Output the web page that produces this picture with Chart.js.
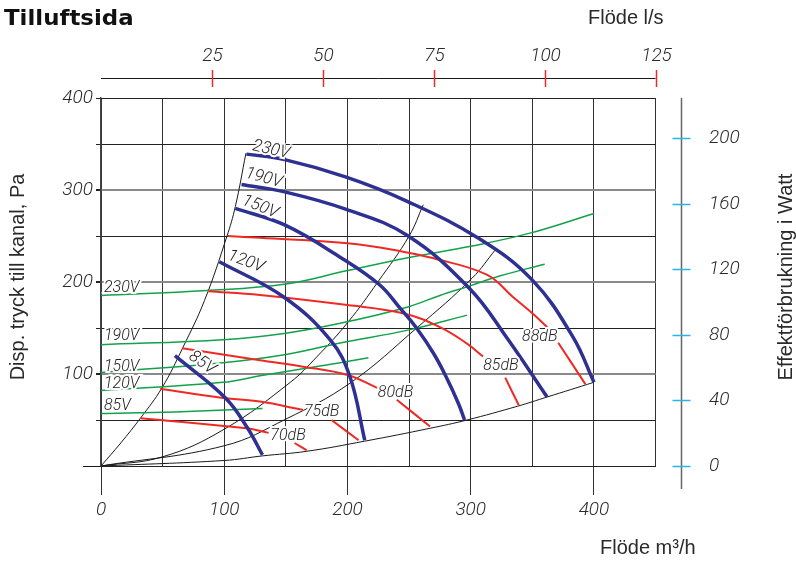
<!DOCTYPE html>
<html>
<head>
<meta charset="utf-8">
<script src="https://cdn.jsdelivr.net/npm/chart.js@4.4.1/dist/chart.umd.min.js"></script>
<style>
  html, body { margin: 0; padding: 0; background: #fff; }
  #wrap { width: 796px; height: 561px; }
</style>
</head>
<body>
<div id="wrap"><canvas id="diagram" width="796" height="561"></canvas></div>
<script>
// Värden: [flöde m3/h, tryck Pa] resp. [flöde m3/h, effekt W]
const xTicks = [0, 100, 200, 300, 400];
const yTicks = [100, 200, 300, 400];
const lsTicks = [25, 50, 75, 100, 125];
const wattTicks = [0, 40, 80, 120, 160, 200];

// fläktkurvor (blå)
const fan230 = [[118,339],[149,333],[199,314],[248,288],[307,247],[350,202],[383,140],[400,91]];
const fan190 = [[114,306],[149,298],[199,279],[248,251],[299,193],[329,140],[362,75]];
const fan150 = [[109,280],[149,262],[194,227],[226,197],[243,171],[256,150],[270,122],[280,97],[290,68],[295,50]];
const fan120 = [[96,222],[148,184],[186,137],[202,97],[214,28]];
const fan85  = [[60,120],[101,74],[119,41],[131,12]];

// ljudkurvor (röda), övre del och nedre del
const db88a = [[103,250],[129,248],[200,242],[245,233],[269,226],[313,208],[334,184],[350,166],[362,151]];
const db88b = [[371,134],[393,89]];
const db85a = [[87,190],[129,186],[200,175],[245,166],[275,151],[297,133],[310,119]];
const db85b = [[328,96],[339,66]];
const db80a = [[66,128],[129,115],[164,108],[200,99],[224,85]];
const db80b = [[240,72],[267,43]];
const db75a = [[48,84],[99,74],[129,70],[164,61]];
const db75b = [[187,50],[209,28]];
const db70a = [[32,52],[118,41],[136,36]];
const db70b = [[157,25],[167,17]];

// effektkurvor (gröna), höger axel
const watt230 = [[0,104],[86,107],[150,111],[199,119],[249,127],[300,134],[348,142],[400,154]];
const watt190 = [[0,74],[99,77],[150,81],[194,87],[249,97],[275,104],[300,110],[324,116],[360,123]];
const watt150 = [[0,57],[99,63],[150,68],[194,75],[250,83],[297,92]];
const watt120 = [[0,46],[99,51],[129,55],[194,63],[217,66]];
const watt85  = [[-2,32],[60,33],[131,35]];

// systemkurvor (svarta)
const sysLeft   = [[0,0],[16,25],[32,52],[49.5,85],[66.5,129],[84,180],[102,249],[109,282],[117.6,340]];
const sysMid    = [[0,0],[50,10],[100,40],[153.6,91],[175,118.5],[200.5,156.5],[224.6,200],[250,250],[261.5,284]];
const sysLow    = [[0,0],[100,22],[150,51],[202,90],[257,151],[301,204],[320,235]];
const sysBottom = [[0,0],[100,6],[131,11],[167,16],[214,27],[267,41],[297,50],[338,65],[362,75],[400,91]];

const BLA = '#2e3192';
const ROD = '#ee2a24';
const GRON = '#12a24a';
const SVART = '#1a1a1a';
const TEXT = '#2a2a2a';
const TICKFONT = '300 italic 19px Roboto';
const LABELFONT = '300 italic 16px Roboto';

function punkter(arr) {
    return arr.map(p => ({ x: p[0], y: p[1] }));
}

function serie(arr, farg, bredd, axel) {
    return {
        data: punkter(arr),
        borderColor: farg,
        borderWidth: bredd,
        pointRadius: 0,
        showLine: true,
        fill: false,
        tension: 0.4,
        xAxisID: 'x',
        yAxisID: axel || 'y'
    };
}

// texter på kurvorna, i datakoordinater
const blaEtiketter = [
    { t: '230V', q: 138, p: 343.5, rot: 13 },
    { t: '190V', q: 132, p: 313, rot: 15 },
    { t: '150V', q: 129, p: 281.5, rot: 22 },
    { t: '120V', q: 117.6, p: 222, rot: 20 },
    { t: '85V', q: 82, p: 112, rot: 35 }
];
const rodaEtiketter = [
    { t: '70dB', q: 151.7, p: 32.6 },
    { t: '75dB', q: 179, p: 58.7 },
    { t: '80dB', q: 239, p: 79 },
    { t: '85dB', q: 324.5, p: 108.7 },
    { t: '88dB', q: 356, p: 140 }
];
const gronaEtiketter = [
    { t: '230V', w: 108.5 },
    { t: '190V', w: 79.3 },
    { t: '150V', w: 60.4 },
    { t: '120V', w: 50 },
    { t: '85V', w: 36.6 }
];

function textMedHalo(ctx, text, x, y) {
    ctx.lineWidth = 4;
    ctx.strokeStyle = '#fff';
    ctx.strokeText(text, x, y);
    ctx.fillText(text, x, y);
}

const extraRitning = {
    id: 'extraRitning',
    afterDraw(chart) {
        const ctx = chart.ctx;
        const sx = chart.scales.x, sy = chart.scales.y;
        const sx2 = chart.scales.x2, sy2 = chart.scales.y2;
        const area = chart.chartArea;
        ctx.save();

        // rubrik
        ctx.fillStyle = '#111';
        ctx.font = 'bold 21px "DejaVu Sans"';
        ctx.textAlign = 'left';
        ctx.textBaseline = 'alphabetic';
        ctx.save();
        ctx.translate(4, 25);
        ctx.scale(1.09, 1);
        ctx.fillText('Tilluftsida', 0, 0);
        ctx.restore();

        // övre axel l/s
        const topY = 78;
        ctx.strokeStyle = SVART;
        ctx.lineWidth = 1;
        ctx.beginPath();
        ctx.moveTo(area.left, topY + 0.5);
        ctx.lineTo(area.right, topY + 0.5);
        ctx.stroke();
        ctx.strokeStyle = ROD;
        ctx.lineWidth = 1.5;
        ctx.font = TICKFONT;
        ctx.fillStyle = TEXT;
        ctx.textAlign = 'center';
        ctx.textBaseline = 'middle';
        lsTicks.forEach(v => {
            const px = Math.round(sx2.getPixelForValue(v)) + 0.5;
            ctx.beginPath();
            ctx.moveTo(px, topY - 8);
            ctx.lineTo(px, topY + 9);
            ctx.stroke();
            ctx.fillText(String(v), px, topY - 22);
        });
        ctx.font = '20px "Liberation Sans"';
        ctx.textAlign = 'left';
        ctx.fillText('Flöde l/s', 588, 18);

        // höger axel W
        const axX = 681.5;
        ctx.strokeStyle = '#666';
        ctx.lineWidth = 1.5;
        ctx.beginPath();
        ctx.moveTo(axX, area.top);
        ctx.lineTo(axX, 489);
        ctx.stroke();
        ctx.strokeStyle = '#27b4e6';
        ctx.font = TICKFONT;
        wattTicks.forEach(v => {
            const py = Math.round(sy2.getPixelForValue(v)) + 0.5;
            ctx.beginPath();
            ctx.moveTo(axX - 9, py);
            ctx.lineTo(axX + 9, py);
            ctx.stroke();
            ctx.fillText(String(v), 709, py);
        });

        // vänster förlängning av x-axeln
        ctx.strokeStyle = SVART;
        ctx.lineWidth = 1;
        ctx.beginPath();
        ctx.moveTo(83, Math.round(sy.getPixelForValue(0)) + 0.5);
        ctx.lineTo(area.left, Math.round(sy.getPixelForValue(0)) + 0.5);
        ctx.stroke();

        // axeltitlar
        ctx.fillStyle = TEXT;
        ctx.font = '20px "Liberation Sans"';
        ctx.textAlign = 'left';
        ctx.fillText('Flöde m³/h', 600, 548);

        ctx.textAlign = 'center';
        ctx.save();
        ctx.translate(18, 277);
        ctx.rotate(-Math.PI / 2);
        ctx.fillText('Disp. tryck till kanal, Pa', 0, 0);
        ctx.restore();
        ctx.save();
        ctx.translate(786, 277);
        ctx.rotate(-Math.PI / 2);
        ctx.fillText('Effektförbrukning i Watt', 0, 0);
        ctx.restore();

        // kurvetiketter
        ctx.fillStyle = '#222';
        ctx.font = '300 italic 17px Roboto';
        blaEtiketter.forEach(e => {
            ctx.save();
            ctx.translate(sx.getPixelForValue(e.q), sy.getPixelForValue(e.p));
            ctx.rotate(e.rot * Math.PI / 180);
            textMedHalo(ctx, e.t, 0, 0);
            ctx.restore();
        });
        ctx.font = LABELFONT;
        rodaEtiketter.forEach(e => {
            textMedHalo(ctx, e.t, sx.getPixelForValue(e.q), sy.getPixelForValue(e.p));
        });
        ctx.textAlign = 'left';
        gronaEtiketter.forEach(e => {
            textMedHalo(ctx, e.t, sx.getPixelForValue(2.4), sy2.getPixelForValue(e.w));
        });
        ctx.restore();
    }
};

const datasets = [
    serie(fan230, BLA, 3.5), serie(fan190, BLA, 3.5), serie(fan150, BLA, 3.5),
    serie(fan120, BLA, 3.5), serie(fan85, BLA, 3.5),
    serie(db88a, ROD, 2), serie(db88b, ROD, 2), serie(db85a, ROD, 2), serie(db85b, ROD, 2),
    serie(db80a, ROD, 2), serie(db80b, ROD, 2), serie(db75a, ROD, 2), serie(db75b, ROD, 2),
    serie(db70a, ROD, 2), serie(db70b, ROD, 2),
    serie(watt230, GRON, 1.5, 'y2'), serie(watt190, GRON, 1.5, 'y2'), serie(watt150, GRON, 1.5, 'y2'),
    serie(watt120, GRON, 1.5, 'y2'), serie(watt85, GRON, 1.5, 'y2'),
    serie(sysLeft, SVART, 1), serie(sysMid, SVART, 1), serie(sysLow, SVART, 1), serie(sysBottom, SVART, 1)
];

new Chart(document.getElementById('diagram'), {
    type: 'scatter',
    data: { datasets: datasets },
    plugins: [extraRitning],
    options: {
        responsive: false,
        animation: false,
        devicePixelRatio: 1,
        layout: { padding: { left: 0, right: 140.4, top: 98, bottom: 0 } },
        plugins: { legend: { display: false }, tooltip: { enabled: false } },
        scales: {
            x: {
                type: 'linear', position: 'bottom', min: 0, max: 450,
                afterFit: s => { s.height = 95; },
                afterBuildTicks: s => { s.ticks = [0,50,100,150,200,250,300,350,400,450].map(v => ({ value: v })); },
                ticks: {
                    font: { family: 'Roboto', size: 19, style: 'italic', weight: 300 },
                    color: TEXT, padding: 4, maxRotation: 0,
                    callback: v => xTicks.includes(v) ? String(v) : ''
                },
                grid: {
                    color: '#333', lineWidth: 1, tickLength: 29,
                    tickColor: c => xTicks.includes(c.tick.value) ? '#333' : 'rgba(0,0,0,0)'
                },
                border: { color: '#222', width: 1 }
            },
            y: {
                type: 'linear', position: 'left', min: 0, max: 400,
                afterFit: s => { s.width = 101; },
                afterBuildTicks: s => { s.ticks = [0,50,100,150,200,250,300,350,400].map(v => ({ value: v })); },
                ticks: {
                    font: { family: 'Roboto', size: 19, style: 'italic', weight: 300 },
                    color: TEXT, padding: 3,
                    callback: v => yTicks.includes(v) ? String(v) : ''
                },
                grid: {
                    color: c => (c.tick && [100,200,300].includes(c.tick.value)) ? '#8a8a8a' : '#222',
                    lineWidth: c => (c.tick && [100,200,300].includes(c.tick.value)) ? 2 : 1,
                    tickLength: 5,
                    tickColor: '#222'
                },
                border: { color: '#444', width: 1.5 }
            },
            x2: { type: 'linear', position: 'top', min: 0, max: 125, display: false },
            y2: { type: 'linear', position: 'right', min: 0, max: 224.4, display: false }
        }
    }
});
</script>
</body>
</html>
